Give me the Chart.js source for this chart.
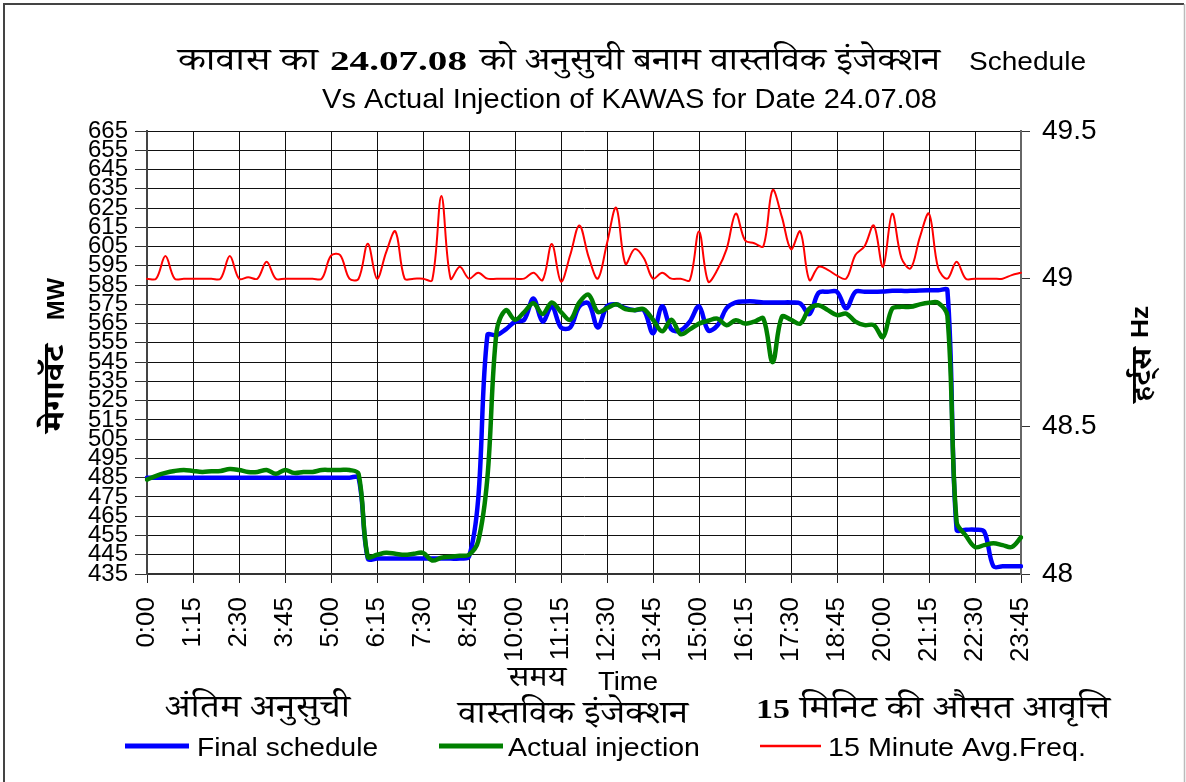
<!DOCTYPE html>
<html>
<head>
<meta charset="utf-8">
<script src="https://cdn.jsdelivr.net/npm/chart.js@4.4.1/dist/chart.umd.min.js"></script>
<style>
body { margin: 0; background: #fff; }
canvas { display: block; }
</style>
</head>
<body>
<canvas id="myChart" width="1186" height="782"></canvas>
<script>
// 15 minute blocks of the day
const times = [
  "0:00","0:15","0:30","0:45","1:00","1:15","1:30","1:45","2:00","2:15",
  "2:30","2:45","3:00","3:15","3:30","3:45","4:00","4:15","4:30","4:45",
  "5:00","5:15","5:30","5:45","6:00","6:15","6:30","6:45","7:00","7:15",
  "7:30","7:45","8:00","8:15","8:30","8:45","9:00","9:15","9:30","9:45",
  "10:00","10:15","10:30","10:45","11:00","11:15","11:30","11:45","12:00","12:15",
  "12:30","12:45","13:00","13:15","13:30","13:45","14:00","14:15","14:30","14:45",
  "15:00","15:15","15:30","15:45","16:00","16:15","16:30","16:45","17:00","17:15",
  "17:30","17:45","18:00","18:15","18:30","18:45","19:00","19:15","19:30","19:45",
  "20:00","20:15","20:30","20:45","21:00","21:15","21:30","21:45","22:00","22:15",
  "22:30","22:45","23:00","23:15","23:30","23:45"
]

const finalSchedule = [
  485,485,485,485,485,485,485,485,485,485,
  485,485,485,485,485,485,485,485,485,485,
  485,485,485,485,443,443,443,443,443,443,
  443,443,443,443,443,444,474,559,559,562,
  566,567,578,566,574,563,563,574,575.5,563,
  574,575,573,572,572,560,574,562,561.5,566,
  574,561.5,564,573,576,576.5,576.5,576,576,576,
  576,575.5,570,581,581.5,581.5,573,581.5,581.5,581.5,
  581.7,582,582,582,582.2,582.3,582.3,582.3,458,458,
  458,457,439,439,439,439
]

const actualInjection = [
  484,486,487.5,488.5,489,488.5,488,488.3,488.5,489.5,
  489,488,488,489,487,489,487.5,488,488,489,
  489,489,489,487,444,445,446,445.5,445,445.5,
  446,442,443.5,444,444.5,445,452,485,561,572,
  567,571,575.6,570,576,571,567,576,580,571,
  573,575,572.5,572,572.5,567,561,567,559.5,562,
  565,566.5,567.6,564.2,566.8,565,566,567.6,545,568.5,
  567,565,572.8,574.5,572,569.4,570.2,566,564.2,564.2,
  558,572.8,573.7,573.7,575,575.8,575.8,569,462,455,
  449,450,451,450,449,454
]

const avgFreq = [
  49.0,49.0,49.077,49.0,49.0,49.0,49.0,49.0,49.0,49.077,
  49.0,49.005,49.0,49.057,49.0,49.0,49.0,49.0,49.0,49.0,
  49.078,49.08,49.0,49.0,49.118,49.0,49.09,49.16,49.0,49.0,
  49.0,48.995,49.28,49.0,49.04,49.0,49.02,49.0,49.0,49.0,
  49.0,49.0,49.02,48.995,49.117,48.99,49.08,49.18,49.074,49.0,
  49.12,49.24,49.05,49.10,49.07,49.0,49.02,49.0,49.0,48.995,
  49.16,48.99,49.03,49.10,49.22,49.13,49.12,49.11,49.30,49.21,
  49.10,49.16,48.995,49.04,49.03,49.01,49.0,49.08,49.11,49.18,
  49.04,49.22,49.07,49.035,49.14,49.22,49.035,49.0,49.057,49.0,
  49.0,49.0,49.0,49.0,49.012,49.02
]

const seriesNames = ['Final schedule', 'Actual injection', '15 Minute Avg.Freq.']
const hindiNames = ['अंतिम अनुसुची', 'वास्तविक इंजेक्शन', 'मिनिट की औसत आवृत्ति']

const SANS = "'Liberation Sans', Arial, sans-serif"
const DEV = "'Noto Serif Devanagari', FreeSerif, 'Lohit Devanagari', 'Noto Sans Devanagari', serif"
const SERIF = "'Liberation Serif', 'Times New Roman', serif"

// draw text squeezed/stretched to a given width, optionally rotated
function put(c, txt, x, y, w, font, rot) {
  c.save()
  c.font = font
  c.fillStyle = '#000'
  c.textAlign = 'left'
  c.textBaseline = 'alphabetic'
  const m = c.measureText(txt).width
  c.translate(x, y)
  if (rot) c.rotate(rot)
  c.scale(w / m, 1)
  c.fillText(txt, 0, 0)
  c.restore()
}

const frameAndText = {
  id: 'frameAndText',
  beforeDraw(chart) {
    const c = chart.ctx
    c.save()
    c.fillStyle = '#fff'
    c.fillRect(0, 0, chart.width, chart.height)
    c.strokeStyle = '#444'
    c.lineWidth = 2
    c.beginPath()
    c.moveTo(4, 782); c.lineTo(4, 4); c.lineTo(1184, 4)
    c.stroke()
    c.strokeStyle = '#bbb'
    c.lineWidth = 1.5
    c.beginPath()
    c.moveTo(1184.5, 4); c.lineTo(1184.5, 782)
    c.stroke()
    c.restore()
  },
  afterDraw(chart) {
    const c = chart.ctx
    const up = -Math.PI / 2
    // title line 1
    put(c, 'कावास का', 178, 70, 140, '32px ' + DEV)
    put(c, '24.07.08', 330, 70, 137, 'bold 27px ' + SERIF)
    put(c, 'को अनुसुची बनाम वास्तविक इंजेक्शन', 480, 70, 460, '32px ' + DEV)
    put(c, 'Schedule', 969, 70, 117, '26px ' + SANS)
    // title line 2
    put(c, 'Vs Actual Injection of KAWAS for Date 24.07.08', 322, 108, 615, '28px ' + SANS)
    // y axis titles
    put(c, 'MW', 64, 320, 42, 'bold 24px ' + SANS, up)
    put(c, 'मेगावॅट', 64, 432, 87, 'bold 30px ' + DEV, up)
    put(c, 'Hz', 1148, 338, 32, 'bold 24px ' + SANS, up)
    put(c, 'हर्ट्स', 1151, 402, 54, 'bold 28px ' + DEV, up)
    // x axis title
    put(c, 'समय', 508, 686, 58, '28px ' + DEV)
    put(c, 'Time', 598, 690, 60, '26px ' + SANS)
    // hindi legend captions
    put(c, hindiNames[0], 165, 717, 185, '32px ' + DEV)
    put(c, hindiNames[1], 458, 723, 230, '32px ' + DEV)
    put(c, '15', 756, 718, 34, 'bold 28px ' + SERIF)
    put(c, hindiNames[2], 800, 718, 310, '32px ' + DEV)
    // legend
    const items = [
      { ds: 1, x1: 125, x2: 189, tx: 197, tw: 181 },
      { ds: 0, x1: 439, x2: 503, tx: 508, tw: 192 },
      { ds: 2, x1: 760, x2: 821, tx: 828, tw: 258 }
    ]
    items.forEach((it, k) => {
      const ds = chart.data.datasets[it.ds]
      c.save()
      c.strokeStyle = ds.borderColor
      c.lineWidth = ds.borderWidth + 0.5
      c.beginPath()
      c.moveTo(it.x1, 746); c.lineTo(it.x2, 746)
      c.stroke()
      c.restore()
      put(c, seriesNames[k], it.tx, 756, it.tw, '26px ' + SANS)
    })
  }
}

new Chart('myChart', {
  type: 'line',
  data: {
    labels: times,
    datasets: [
      { label: seriesNames[1], data: actualInjection, borderColor: '#008000', borderWidth: 4.5, yAxisID: 'y', order: 1 },
      { label: seriesNames[0], data: finalSchedule, borderColor: '#0000ff', borderWidth: 4.5, yAxisID: 'y', order: 2 },
      { label: seriesNames[2], data: avgFreq, borderColor: '#ff0000', borderWidth: 2, yAxisID: 'y1', order: 0 }
    ]
  },
  options: {
    responsive: false,
    animation: false,
    devicePixelRatio: 1,
    layout: { padding: { top: 131, left: 0, right: 0, bottom: 0 } },
    elements: {
      point: { radius: 0 },
      line: { tension: 0.35, fill: false, borderJoinStyle: 'round', borderCapStyle: 'round' }
    },
    plugins: { legend: { display: false }, tooltip: { enabled: false }, title: { display: false } },
    scales: {
      x: {
        type: 'category',
        offset: false,
        afterFit: s => { s.height = 208 },
        grid: {
          color: ctx => ctx.index % 5 === 0 ? '#111' : 'rgba(0,0,0,0)',
          tickColor: ctx => ctx.index % 5 === 0 ? '#222' : 'rgba(0,0,0,0)',
          tickLength: 9,
          lineWidth: 1
        },
        border: { color: '#333', width: 2 },
        ticks: {
          autoSkip: false,
          maxRotation: 90,
          minRotation: 90,
          padding: 14,
          color: '#000',
          font: { family: SANS, size: 26 },
          callback: (v, i) => i % 5 === 0 ? times[i] : ''
        }
      },
      y: {
        position: 'left',
        min: 435,
        max: 665,
        afterFit: s => { s.width = 147 },
        grid: { color: '#111', tickColor: '#333', tickLength: 12, lineWidth: 1 },
        border: { color: '#444', width: 2 },
        ticks: { stepSize: 10, autoSkip: false, padding: 7, color: '#000', font: { family: SANS, size: 24 } }
      },
      y1: {
        position: 'right',
        min: 48,
        max: 49.5,
        afterFit: s => { s.width = 165 },
        grid: { drawOnChartArea: false, tickColor: '#333', tickLength: 9 },
        border: { color: '#666', width: 2 },
        ticks: { stepSize: 0.5, padding: 12, color: '#000', font: { family: SANS, size: 28 }, callback: v => String(v) }
      }
    }
  },
  plugins: [frameAndText]
})
</script>
</body>
</html>
